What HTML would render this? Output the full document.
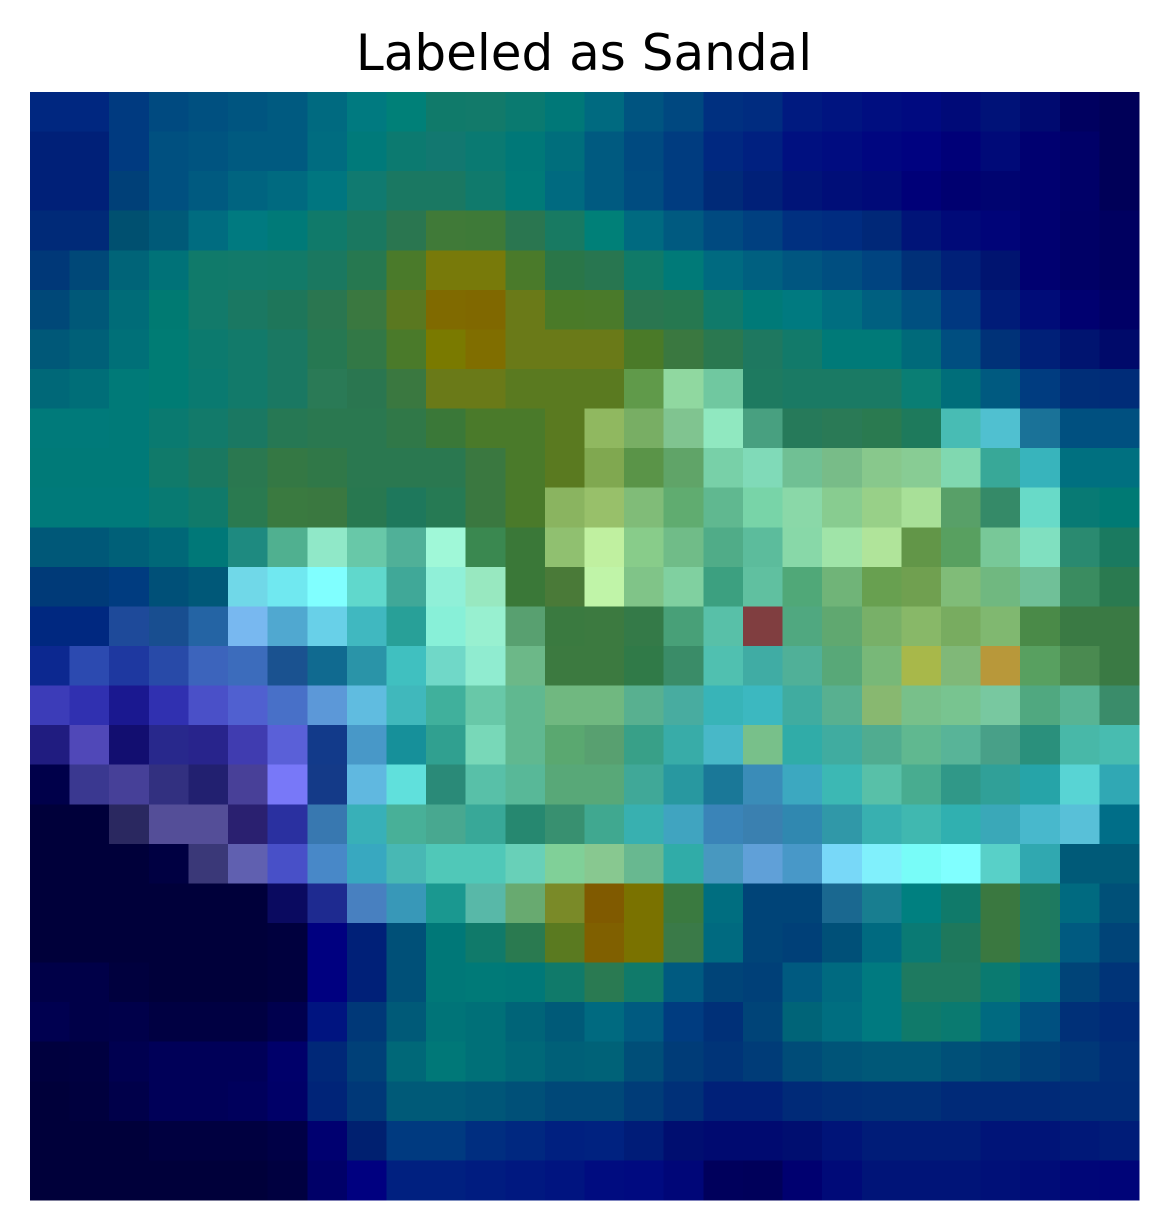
<!DOCTYPE html>
<html><head><meta charset="utf-8"><style>
html,body{margin:0;padding:0;background:#fff;}
svg{display:block;}
</style></head>
<body>
<svg id="chart" width="1168" height="1231" viewBox="0 0 1168 1231">
<text x="584" y="70" text-anchor="middle" font-family="DejaVu Sans, Liberation Sans, sans-serif" font-size="50" fill="#000">Labeled as Sandal</text>
<g id="cells" shape-rendering="crispEdges"></g>
</svg>
<script>
const rows = [
"002780 002780 003a80 004a80 005080 005580 005a80 006a80 007a80 008078 107a6a 127a6a 0a7a70 007878 006a80 005480 004880 003080 002c80 001a80 001480 000e80 000a80 000a78 001278 000a70 000060 000058",
"002078 002078 003a80 005080 005480 005a80 005a80 006c80 007a7a 0c7a70 127870 0a7a72 007878 006e7c 005a80 004a80 003c80 002880 002080 001080 000c80 000680 000280 000078 000a78 000070 000068 000058",
"002078 002078 004078 005080 005a80 006480 006a80 007680 107a70 1a7862 1a7862 107a6c 007a78 006a80 005a80 004c80 003c80 002a78 002078 001478 000e78 000a78 000078 000070 000470 000070 000068 000058",
"002a78 002a78 005070 005a78 006c80 007a80 007a78 107a6a 1a7860 2a7650 407a38 3e7a38 2a7650 187a62 008078 006a80 005a80 004a80 004080 003080 002c80 002878 001478 000a78 000478 000070 000066 000060",
"003878 004878 006478 007278 107a6a 127a6a 127a68 1a7860 267850 4a7a2a 787a0a 787a0a 4a7a2a 2a7648 287650 107a68 007a78 006a80 006080 005680 004e80 004480 003078 002078 001470 000070 000066 000060",
"004878 005878 006c78 007a72 127a6a 1a7862 1e765a 2a7650 3a7840 5a7820 806a00 806800 6a7a18 4a7a28 4a7a2a 2a7650 267850 107a6a 007a78 007a80 006e80 006080 005080 003880 001c78 000c78 000070 000066",
"005878 006078 007078 007c74 0c7a6e 127a6a 1a7862 267852 327846 4a7a2a 7a7a00 806e00 6a7a18 6a7a18 6a7a18 4a7a28 3a7840 2a7850 1e7860 127a6a 007a78 007a78 006a7a 004e80 003278 002078 001470 000a6a",
"006878 006e78 007a78 007c74 0a7a70 127a6a 1a7862 2a7a56 2a7650 3a7840 6a7a18 6a7a18 5a7a20 5a7a20 5a7a20 609a4a 90d8a0 70c8a0 1e7a60 1a7a64 1a7a64 1a7a64 0a7e74 006e7a 005a80 003c80 002e78 002c78",
"007a7a 007a7a 007a78 0a7a70 127a6a 1a7862 267854 2a7850 2a7850 307848 3a7838 4a7a2a 4a7a2a 5a7a20 90b860 78ae64 80c490 90e8c0 48a080 267a5a 2a7a56 2a7a50 1e7a5c 48bcb4 50c0d0 1a7298 005080 005080",
"007a78 007a78 007a78 107a6a 1a7860 2a7850 347844 307848 2a7850 2a7850 2a7850 3a7840 4a7a2a 5a7a20 80a850 5a9448 60a468 78d0a8 80dab8 70c094 78bc88 88c88c 88cc94 80d8b0 38a898 38b4bc 007080 007080",
"007a7a 007a7a 007a7a 087a72 107a6a 2a7a50 3a7a40 3a7840 287850 1e785c 267a54 3a7840 4a7a2a 8ab460 98c06a 80bc78 60ac70 60b890 78d4a8 8ad8a8 88cc90 98d088 a8e098 58a068 358a68 68dac8 087a74 007a74",
"005878 005878 006078 006878 007878 1e8a80 50b090 90e8c8 68c8a8 50b098 a0f8d8 3a8850 3a7838 90c070 c0f0a0 88cc8a 70bc88 50ac88 5cbc9c 88d8a8 a0e4a8 b0e49a 629648 58a060 78c898 80e0c0 2a8a70 1a7a60",
"003a78 003a78 003c80 005078 005878 70d8e8 70e8f0 80ffff 60d8cc 40a898 90f0d8 98e8c0 3a7838 4a7a38 c0f4a8 80c488 80d0a0 3ca080 60c0a0 50a878 70b478 68a050 70a050 80bc78 70b880 70c098 3a8c60 2a7a50",
"002880 002880 1e4a9a 184e90 2464a4 78b8f0 50a8d0 68d0e8 40b8c0 28a098 88f0d8 98f0d0 58a070 3a7a40 3c7a40 347a48 48a078 58c0a8 803e40 50a880 60a870 78b068 88b868 78ac60 80b870 4a8a48 3a7a44 3a7a44",
"0c2890 2c4ab0 1e38a0 284aa8 3c64bc 3c6cbc 1a5290 106a90 2a94a8 40c0c0 70d8c8 90ecd0 6cb888 3c7a40 3c7a40 307a48 3a8c68 50c0b0 40aca4 50b098 58a878 78b878 a8b84a 80b878 b8983a 58a060 4a8a50 3a7a44",
"3c3cb8 3030b0 1a1890 3030b0 4a50c8 5060d0 4870c8 5c98d8 60bce0 40b8bc 40b09c 68c8a8 60b890 70b880 70b880 58b090 48aca0 38b4b8 3cb8c0 40aca0 58b090 88b870 78c08a 78c490 78c8a0 50a880 58b494 3a8c6a",
"201c80 5048b8 120e70 28288c 28248c 403cb0 5a60d8 123a8a 4898c8 16909a 30a090 78d8b8 60b890 5aa870 58a070 38a088 38aca8 48b8c8 78c08a 30aca8 40aca0 50ac90 60b890 58b498 48a088 2a907c 48b8a8 48bcb0",
"00004a 3a3890 464098 323080 222070 484098 7878f8 143a88 60b8e0 60e0dc 2a8a78 58c0a8 58b898 58a878 58a878 40a898 2898a0 1a7898 3a8cb8 3ca8c0 3cb8b4 58c0a8 48ac90 309888 30a098 26a4a8 58d4d4 30a8b4",
"00003a 00003a 2a2860 544e98 544e98 2a2070 2a30a0 3878b0 38b0b8 48b098 48a890 38a898 268870 389070 40a890 38b0b0 40a4c0 3a84b8 3a80b0 3088b0 3098a8 38b0b0 40b8b0 30b0b0 3aa8b8 48b8cc 58c0d8 006e88",
"00003a 00003a 00003a 000042 3a3878 6060b0 4850c8 4888c8 38a8c0 48b8b4 50c8b8 50c8b8 68d0b8 80d098 88c890 68b890 30aca8 4898c0 60a0d8 4898c8 78d8f8 80f0fc 78fcf8 80ffff 58d0c8 30a8b0 005a78 005a78",
"00003a 00003a 00003a 00003a 00003a 00003a 0a0a60 1e2a90 4880c0 3898b8 1a9890 58b8a8 68aa70 7a8a28 805a00 7a7200 3a7a40 006e80 004478 004478 1a6890 187e90 008080 107a6a 3a7840 1e7a60 006a80 005078",
"00003a 00003a 00003a 00003a 00003a 00003a 00003e 000080 002078 005078 007878 107a6a 2a7a50 5a7a20 806000 7a7200 3a7a48 006a80 004478 004078 005078 006a80 0a7a74 1e785c 3a7840 1e7a60 005a80 004478",
"000048 000048 00003e 00003a 00003a 00003a 00003e 000080 002078 005078 007878 007a78 007878 107a6a 2a7a52 107a6a 005a80 004478 004078 005a80 006a80 007a80 1e7a60 1e7a60 0a7a70 006e80 004478 003478",
"000050 000048 00004a 000042 000042 000042 00004e 001480 003878 005a78 007478 007078 006478 005a78 006a80 005a80 003c80 003078 004478 006478 006e80 007a80 107a6a 0a7a70 006a80 005080 003078 002a78",
"00003e 000040 000050 000058 000058 000058 00006a 002878 004078 006878 007878 007078 006878 006078 006278 004e78 003c78 003478 003c78 004c78 005478 005878 005878 005078 004a78 004078 003878 002e78",
"00003a 00003e 00004a 000058 000058 00005c 000068 002478 003878 005a78 005a78 005678 005078 004878 004878 003c78 003078 002078 002078 002a78 002e78 003078 003078 002a78 002a78 002a78 002c78 002c78",
"00003a 00003a 00003a 000040 000040 000040 000046 000070 002070 003a80 003a80 002e80 002880 002080 002280 001c78 000e70 000a70 000a70 000e70 001478 001c78 001c78 001c78 001478 001478 001878 001c78",
"00003a 00003a 00003a 00003a 00003a 00003a 000040 000068 000080 002080 002080 001c80 001880 001480 000c80 000a80 000678 00005c 00005a 000070 000a78 001478 001478 001478 001078 000c78 000678 000478"
];
const x0 = 30, y0 = 92, plotW = 1109, plotH = 1108;
const nRows = rows.length;
const nCols = rows[0].split(' ').length;
const cw = plotW / nCols, ch = plotH / nRows;
const xScale = c => x0 + c * cw;
const yScale = r => y0 + r * ch;
const g = document.getElementById('cells');
const NS = 'http://www.w3.org/2000/svg';
rows.forEach((row, r) => {
  row.split(' ').forEach((hex, c) => {
    const rect = document.createElementNS(NS, 'rect');
    rect.setAttribute('x', xScale(c).toFixed(2));
    rect.setAttribute('y', yScale(r).toFixed(2));
    rect.setAttribute('width', (cw + 0.6).toFixed(2));
    rect.setAttribute('height', (ch + 0.6).toFixed(2));
    rect.setAttribute('fill', '#' + hex);
    
    
    g.appendChild(rect);
  });
});
</script>
</body></html>
